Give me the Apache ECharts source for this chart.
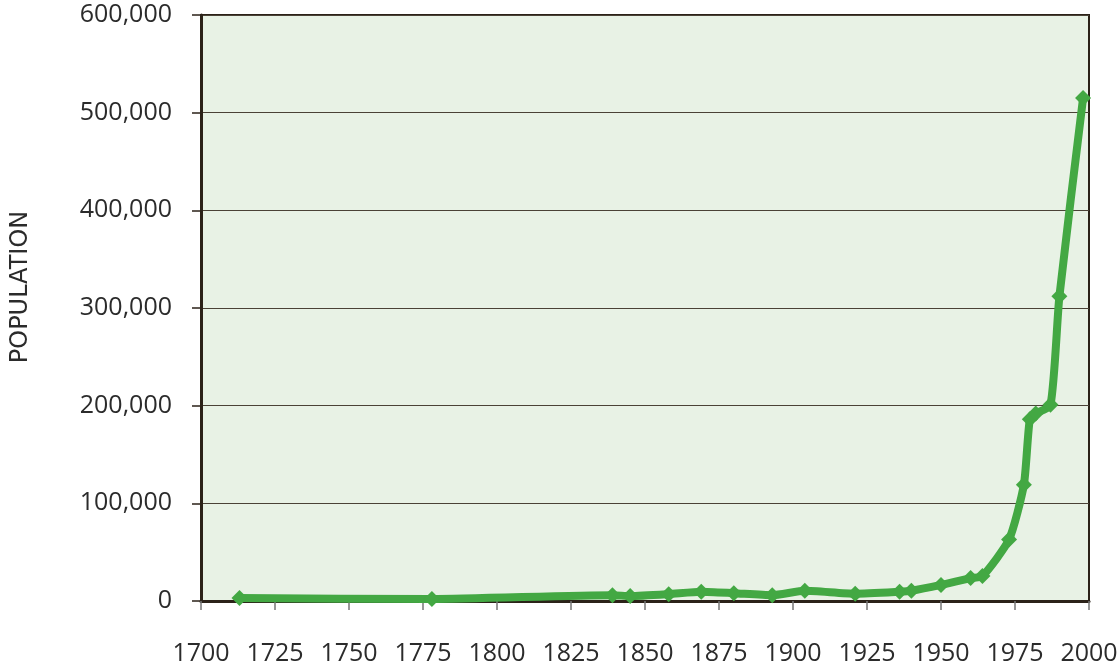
<!DOCTYPE html>
<html>
<head>
<meta charset="utf-8">
<script src="https://cdn.jsdelivr.net/npm/echarts@6/dist/echarts.min.js"></script>
<style>html,body{margin:0;padding:0;background:#fff}#c{width:1119px;height:665px}</style>
</head>
<body>
<div id="c"></div>
<script>
const years = [1713, 1778, 1839, 1845, 1858, 1869, 1880, 1893, 1904, 1921, 1936, 1940, 1950, 1960, 1964, 1973, 1978, 1980, 1982, 1987, 1990, 1998];
const population = [3000, 2000, 6000, 5000, 7000, 9500, 8000, 6000, 10500, 7500, 9500, 10500, 16500, 23500, 25500, 63000, 119000, 186000, 192000, 201000, 312000, 515000];
const yAxisName = 'POPULATION';

const chart = echarts.init(document.getElementById('c'));
const font = 'Open Sans';
chart.setOption({
  animation: false,
  grid: {
    left: 201, top: 15, width: 888, height: 586,
    containLabel: false, outerBoundsMode: 'none',
    show: true, backgroundColor: '#e8f2e5', borderColor: '#2b2218', borderWidth: 2
  },
  graphic: [{
    type: 'text', x: 21, y: 287, rotation: Math.PI / 2,
    style: { text: yAxisName, fontFamily: 'DejaVu Sans', fontSize: 24, fill: '#2b2b2b',
      textAlign: 'center', textVerticalAlign: 'middle' }
  }],
  xAxis: {
    type: 'value', min: 1700, max: 2000, interval: 25,
    axisLine: { show: true, lineStyle: { color: '#2b2218', width: 3 } },
    axisTick: { show: true, length: 9, lineStyle: { color: '#777', width: 1.5 } },
    splitLine: { show: false },
    axisLabel: { margin: 40, fontFamily: font, fontSize: 25, color: '#2b2b2b', formatter: v => String(v) }
  },
  yAxis: {
    type: 'value', min: 0, max: 600000, interval: 100000,
    axisLine: { show: true, lineStyle: { color: '#2b2218', width: 3 } },
    axisTick: { show: true, length: 9, lineStyle: { color: '#2b2218', width: 1.5 } },
    splitLine: { show: true, lineStyle: { color: '#4a4236', width: 1.2 } },
    axisLabel: { margin: 29, padding: [8, 0, 0, 0], fontFamily: font, fontSize: 25, color: '#2b2b2b',
      formatter: v => v.toLocaleString('en-US') }
  },
  series: [{
    type: 'line',
    data: years.map((y, i) => [y, population[i]]),
    smooth: 0.2,
    symbol: 'diamond', symbolSize: 16,
    lineStyle: { color: '#43a843', width: 8 },
    itemStyle: { color: '#43a843' }
  }]
});
</script>
</body>
</html>
